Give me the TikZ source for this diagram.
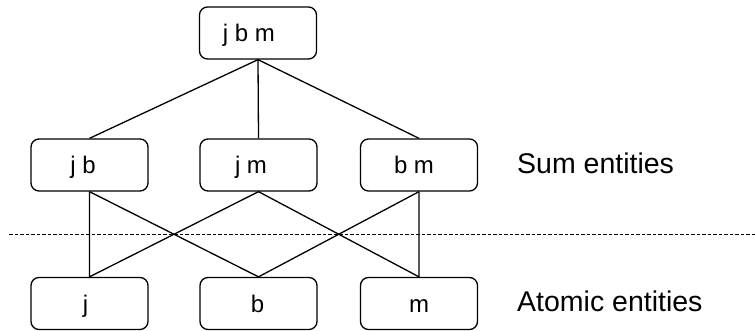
\documentclass[tikz,border=0pt]{standalone}
\usepackage{fontspec}
\setmainfont{Liberation Sans}
\begin{document}
\begin{tikzpicture}[x=1pt,y=-1pt,
    ent/.style={draw,line width=1.3pt,rounded corners=8pt,minimum width=117pt,minimum height=52pt,inner sep=0pt,text height=18pt,text depth=0pt,font=\fontsize{24}{24}\selectfont},
    link/.style={line width=1.3pt},
    side/.style={anchor=base west,inner sep=0pt,font=\fontsize{28.5}{28.5}\selectfont}]
        \useasboundingbox (0,0) rectangle (755,331);
        \node[ent] (jbm) at (258,33){j b m\kern18pt};
        \node[ent] (jb) at (89.5,165){j b\kern13pt};
        \node[ent] (jm) at (258.5,165){j m\kern15pt};
        \node[ent] (bm) at (419,165){b m\kern10pt};
        \node[ent] (j) at (89.5,303.5){j\kern8pt};
        \node[ent] (b) at (258.5,303.5){b\kern2pt};
        \node[ent] (m) at (419,303.5){m};
        \node[side] (sum) at (517,173.3){Sum entities};
        \node[side] (atom) at (517,311.7){Atomic entities};
        \coordinate (dl) at (9,234.5);
        \coordinate (dr) at (755,234.5);
        \draw[line width=0.8pt,dash pattern=on 3.5pt off 2pt] (dl)--(dr);
        \draw[link](jbm.south)--(jb.north) (jbm.south)--(jm.north) (jbm.south)--(bm.north);
        \draw[link](jb.south)--(j.north) (jb.south)--(b.north);
        \draw[link](jm.south)--(j.north) (jm.south)--(m.north);
        \draw[link](bm.south)--(b.north) (bm.south)--(m.north);
    \end{tikzpicture}
\end{document}
